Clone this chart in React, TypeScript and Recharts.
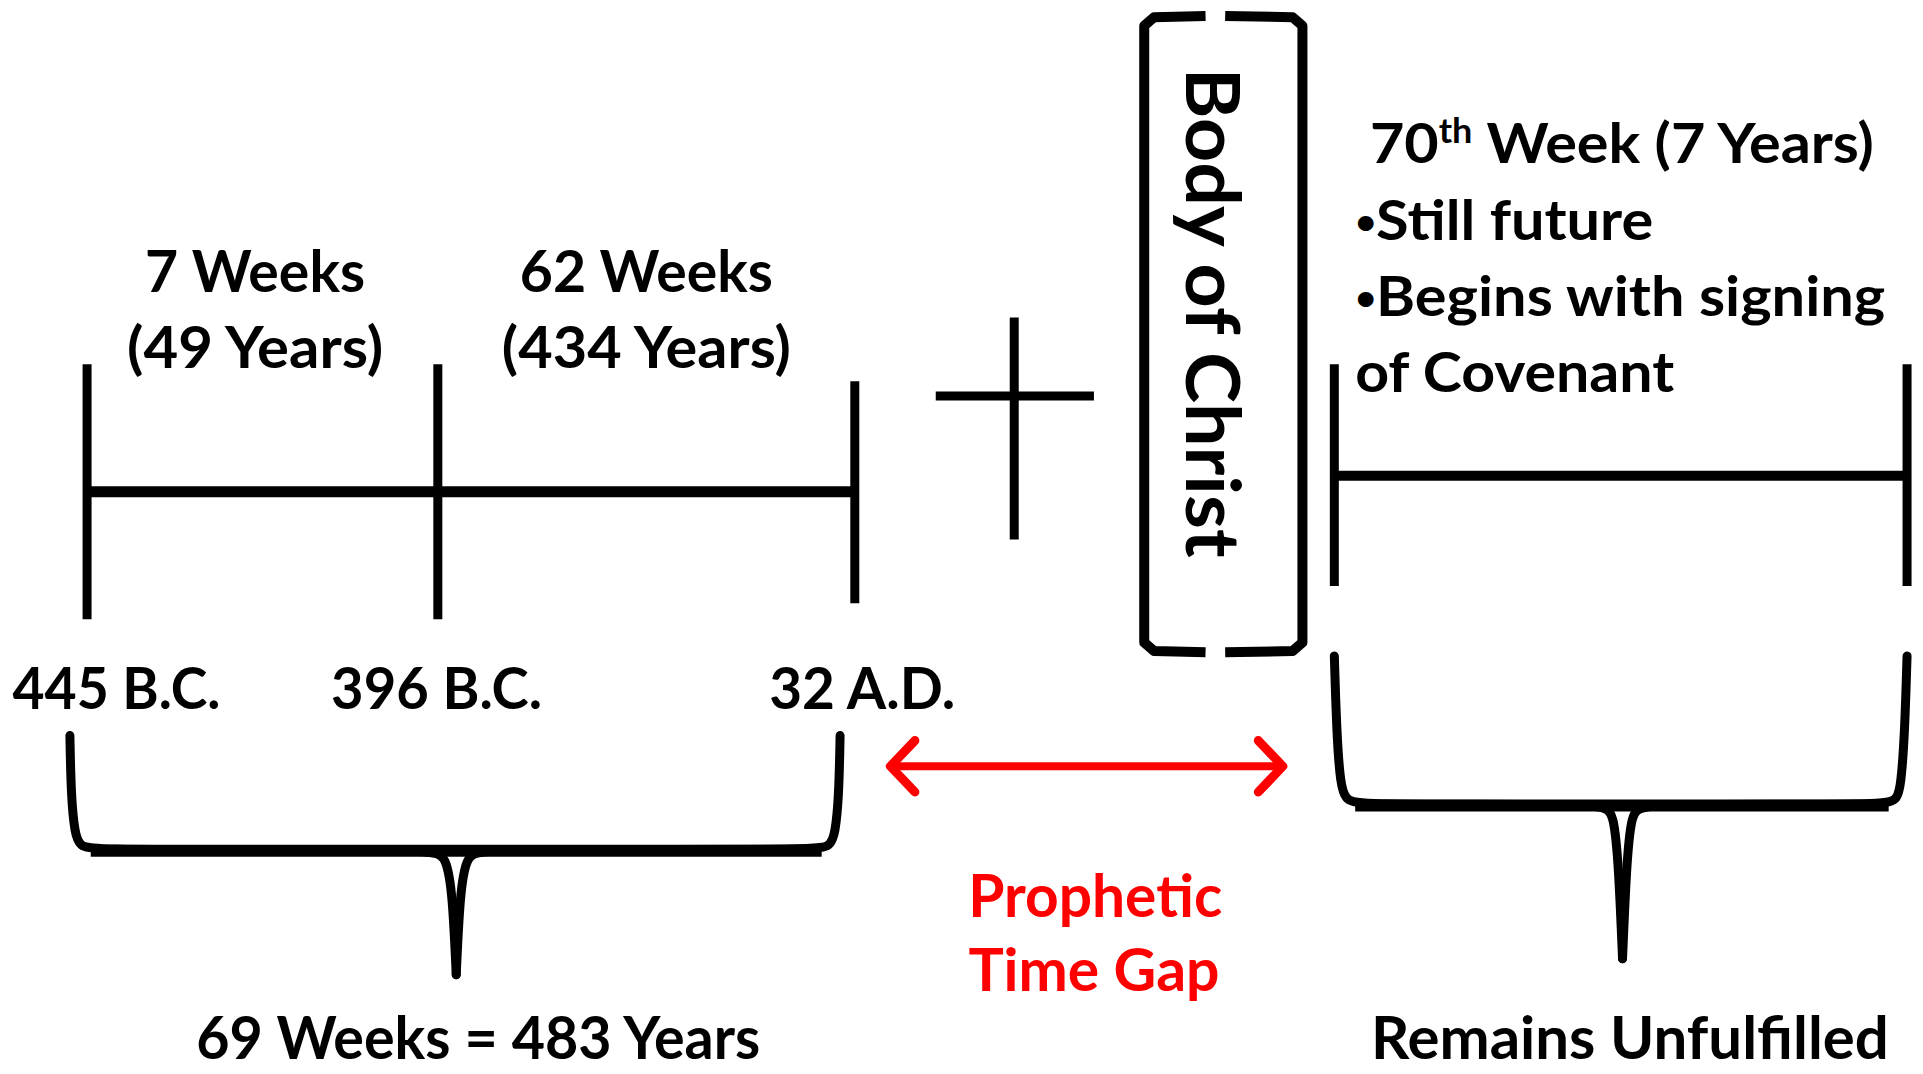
import { ComposedChart, Line, Scatter, XAxis, YAxis } from 'recharts';

// Diagram grid: the axes span 1568 x 876 units, drawn onto 1923 x 1074 px
const GRID_W = 1568;
const GRID_H = 876;

// Timeline segments, [x, y] in grid units
const leftTicks = [
  [[71, 297], [71, 505]],
  [[357, 297], [357, 505]],
  [[697, 311], [697, 492]],
];
const leftSpan = [[71, 401], [697, 401]];
const crossStem = [[827, 259], [827, 440]];
const crossBar = [[763, 323], [892, 323]];
const rightTicks = [
  [[1088, 297], [1088, 478]],
  [[1555, 297], [1555, 478]],
];
const rightSpan = [[1088, 388], [1555, 388]];

// "Body of Christ" bracket, two halves with a gap top and bottom
const bodyLeft = [[983, 13], [941, 14], [933, 21], [933, 524], [941, 531], [983, 532]];
const bodyRight = [[999, 13], [1054, 14], [1062, 21], [1062, 524], [1054, 531], [999, 532]];

// Prophetic gap arrow
const gapShaft = [[730, 625], [1042, 625]];
const gapHeadL = [[746, 604], [726, 625], [746, 646]];
const gapHeadR = [[1026, 604], [1046, 625], [1026, 646]];

// Curly braces (two arms meeting at the point)
const braceLeftA = [[57, 600], [57, 600], [58, 650], [61, 680], [65, 690], [76, 693], [200, 693], [352, 693], [364, 698], [369, 730], [372, 795], [372, 795]];
const braceLeftB = [[685, 600], [685, 600], [684, 650], [681, 680], [677, 690], [666, 693], [500, 693], [392, 693], [380, 698], [375, 730], [372, 795], [372, 795]];
const braceLeftBar = [[74, 694], [670, 694]];
const braceRightA = [[1088, 535], [1088, 535], [1090, 600], [1093, 640], [1097, 652], [1107, 656], [1200, 656], [1307, 656], [1316, 662], [1320, 710], [1323, 782], [1323, 782]];
const braceRightB = [[1555, 535], [1555, 535], [1553, 600], [1550, 640], [1547, 652], [1538, 656], [1450, 656], [1339, 656], [1330, 662], [1326, 710], [1323, 782], [1323, 782]];
const braceRightBar = [[1105, 657], [1540, 657]];

// Text labels: x = centre (or left edge), y = baseline
const spanLabels = [
  { x: 208, y: 238, text: '7 Weeks' },
  { x: 208, y: 300, text: '(49 Years)' },
  { x: 527, y: 238, text: '62 Weeks' },
  { x: 527, y: 300, text: '(434 Years)' },
];
const dateLabels = [
  { x: 95, y: 578, text: '445 B.C.' },
  { x: 356, y: 578, text: '396 B.C.' },
  { x: 703, y: 578, text: '32 A.D.' },
];
const weekLines = [
  { x: 1105, y: 196, text: 'Still future' },
  { x: 1105, y: 258, text: 'Begins with signing' },
];
const weekLast = [{ x: 1105, y: 320, text: 'of Covenant' }];
const weekTitle = [{ x: 1117, y: 133, text: '70th Week (7 Years)' }];
const bodyLabel = [{ x: 967, y: 255, text: 'Body of Christ' }];
const gapLabels = [
  { x: 893, y: 748, text: 'Prophetic' },
  { x: 892, y: 808, text: 'Time Gap' },
];
const sumLabels = [
  { x: 390, y: 864, text: '69 Weeks = 483 Years' },
  { x: 1329, y: 864, text: 'Remains Unfulfilled' },
];

// target rendered widths, px
const TEXT_W: Record<string, number> = {
  '7 Weeks': 220,
  '(49 Years)': 256,
  '62 Weeks': 253,
  '(434 Years)': 289,
  '445 B.C.': 208,
  '396 B.C.': 211,
  '32 A.D.': 186,
  '70th Week (7 Years)': 504,
  'Still future': 298,
  'Begins with signing': 530,
  'of Covenant': 319,
  'Body of Christ': 490,
  'Prophetic': 254,
  'Time Gap': 251,
  '69 Weeks = 483 Years': 564,
  'Remains Unfulfilled': 518,
};

const FONT = 'Lato, "Open Sans", sans-serif';
const pts = (seg: number[][]) => seg.map(([x, y]) => ({ x, y }));

const makeText = (size: number, anchor: string, color = '#000', weight = 700) => (props: any) => {
  const { cx, cy, payload } = props;
  return (
    <text
      x={cx}
      y={cy}
      fontFamily={FONT}
      fontWeight={weight}
      fontSize={size}
      fill={color}
      textAnchor={anchor}
      textLength={TEXT_W[payload.text]}
      lengthAdjust="spacingAndGlyphs"
    >
      {payload.text}
    </text>
  );
};

const BulletText = (props: any) => {
  const { cx, cy, payload } = props;
  return (
    <text
      x={cx}
      y={cy}
      fontFamily={FONT}
      fontWeight={700}
      fontSize={56}
      fill="#000"
      textLength={TEXT_W[payload.text]}
      lengthAdjust="spacingAndGlyphs"
    >
      <tspan fontSize={34} dy={-6}>•</tspan>
      <tspan dy={6}>{payload.text}</tspan>
    </text>
  );
};

const TitleText = (props: any) => {
  const { cx, cy } = props;
  return (
    <text
      x={cx}
      y={cy}
      fontFamily={FONT}
      fontWeight={700}
      fontSize={56}
      fill="#000"
      textLength={TEXT_W['70th Week (7 Years)']}
      lengthAdjust="spacingAndGlyphs"
    >
      70
      <tspan dy={-20} fontSize={34}>th</tspan>
      <tspan dy={20}> Week (7 Years)</tspan>
    </text>
  );
};

const BodyText = (props: any) => {
  const { cx, cy, payload } = props;
  return (
    <text
      x={cx}
      y={cy}
      transform={`rotate(90 ${cx} ${cy})`}
      fontFamily={FONT}
      fontWeight={700}
      fontSize={74}
      fill="#000"
      textAnchor="middle"
      textLength={TEXT_W[payload.text]}
      lengthAdjust="spacingAndGlyphs"
    >
      {payload.text}
    </text>
  );
};

export default function App() {
  const segLine = (seg: number[][], w: number, key: string, color = '#000', curve = 'linear', cap = 'butt') => (
    <Line
      key={key}
      data={pts(seg)}
      dataKey="y"
      type={curve as any}
      stroke={color}
      strokeWidth={w}
      strokeLinecap={cap as any}
      strokeLinejoin="round"
      dot={false}
      activeDot={false}
      isAnimationActive={false}
    />
  );

  return (
    <div style={{ position: 'absolute', left: 0, top: 0, background: '#fff' }}>
      <ComposedChart width={1923} height={1074} margin={{ top: 0, right: 0, bottom: 0, left: 0 }}>
        <XAxis type="number" dataKey="x" domain={[0, GRID_W]} allowDataOverflow hide />
        <YAxis type="number" dataKey="y" domain={[0, GRID_H]} reversed allowDataOverflow hide />

        {leftTicks.map((t, i) => segLine(t, 9, `lt${i}`))}
        {segLine(leftSpan, 11, 'ls')}
        {segLine(crossStem, 9, 'cs')}
        {segLine(crossBar, 9, 'cb')}
        {rightTicks.map((t, i) => segLine(t, 9, `rt${i}`))}
        {segLine(rightSpan, 10, 'rs')}

        {segLine(bodyLeft, 10, 'bl')}
        {segLine(bodyRight, 10, 'br')}

        {segLine(gapShaft, 8, 'gs', '#ff0000')}
        {segLine(gapHeadL, 9, 'ghl', '#ff0000', 'linear', 'round')}
        {segLine(gapHeadR, 9, 'ghr', '#ff0000', 'linear', 'round')}

        {segLine(braceLeftA, 9, 'bla', '#000', 'basis', 'round')}
        {segLine(braceLeftB, 9, 'blb', '#000', 'basis', 'round')}
        {segLine(braceLeftBar, 12, 'blbar')}
        {segLine(braceRightA, 9, 'bra', '#000', 'basis', 'round')}
        {segLine(braceRightB, 9, 'brb', '#000', 'basis', 'round')}
        {segLine(braceRightBar, 12, 'brbar')}

        <Scatter data={spanLabels} dataKey="y" shape={makeText(58, 'middle')} isAnimationActive={false} />
        <Scatter data={dateLabels} dataKey="y" shape={makeText(58, 'middle')} isAnimationActive={false} />
        <Scatter data={weekTitle} dataKey="y" shape={TitleText} isAnimationActive={false} />
        <Scatter data={weekLines} dataKey="y" shape={BulletText} isAnimationActive={false} />
        <Scatter data={weekLast} dataKey="y" shape={makeText(56, 'start')} isAnimationActive={false} />
        <Scatter data={bodyLabel} dataKey="y" shape={BodyText} isAnimationActive={false} />
        <Scatter data={gapLabels} dataKey="y" shape={makeText(60, 'middle', '#ff0000')} isAnimationActive={false} />
        <Scatter data={sumLabels} dataKey="y" shape={makeText(60, 'middle')} isAnimationActive={false} />
      </ComposedChart>
    </div>
  );
}
